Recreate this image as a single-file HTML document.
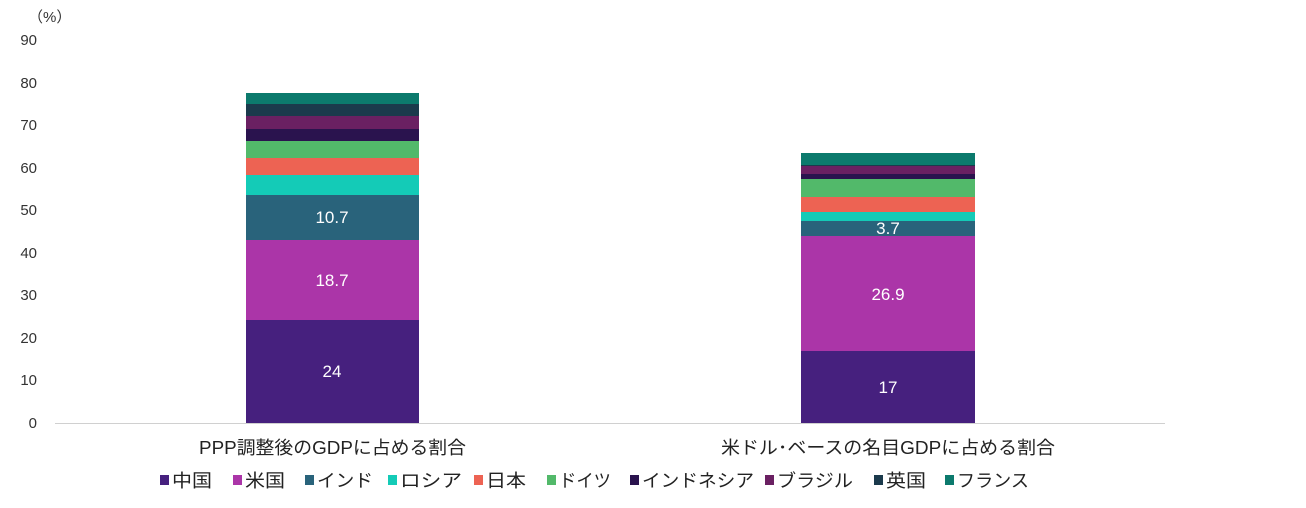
<!DOCTYPE html>
<html><head><meta charset="utf-8"><style>
body{margin:0;background:#fff;}
svg text{font-family:"Liberation Sans","Noto Sans CJK JP",sans-serif;}
</style></head><body>
<svg width="1306" height="503" xmlns="http://www.w3.org/2000/svg">
<g font-size="15" fill="#333" text-anchor="end">
<text x="37" y="45">90</text><text x="37" y="88">80</text><text x="37" y="130">70</text>
<text x="37" y="173">60</text><text x="37" y="215">50</text><text x="37" y="258">40</text>
<text x="37" y="300">30</text><text x="37" y="343">20</text><text x="37" y="385">10</text>
<text x="37" y="428">0</text></g>
<text x="28" y="22" font-size="15" fill="#333">（%）</text>
<line x1="55" y1="423.5" x2="1165" y2="423.5" stroke="#d0d0d0"/>
<g>
<rect x="246" y="320" width="173" height="103" fill="#46207e"/>
<rect x="246" y="240" width="173" height="80" fill="#ab35a8"/>
<rect x="246" y="195" width="173" height="45" fill="#29637b"/>
<rect x="246" y="175" width="173" height="20" fill="#14cbb7"/>
<rect x="246" y="158" width="173" height="17" fill="#ed6353"/>
<rect x="246" y="141" width="173" height="17" fill="#52b96a"/>
<rect x="246" y="129" width="173" height="12" fill="#2a134e"/>
<rect x="246" y="116" width="173" height="13" fill="#6a2062"/>
<rect x="246" y="104" width="173" height="12" fill="#1b3a4c"/>
<rect x="246" y="93" width="173" height="11" fill="#0c7a6d"/>
</g>
<g>
<rect x="801" y="351" width="174" height="72" fill="#46207e"/>
<rect x="801" y="236" width="174" height="115" fill="#ab35a8"/>
<rect x="801" y="221" width="174" height="15" fill="#29637b"/>
<rect x="801" y="212" width="174" height="9" fill="#14cbb7"/>
<rect x="801" y="197" width="174" height="15" fill="#ed6353"/>
<rect x="801" y="179" width="174" height="18" fill="#52b96a"/>
<rect x="801" y="174" width="174" height="5" fill="#2a134e"/>
<rect x="801" y="166" width="174" height="8" fill="#6a2062"/>
<rect x="801" y="165" width="174" height="1" fill="#1b3a4c"/>
<rect x="801" y="153" width="174" height="12" fill="#0c7a6d"/>
</g>
<g font-size="17" fill="#fff" text-anchor="middle">
<text x="332" y="377">24</text><text x="332" y="286">18.7</text><text x="332" y="223">10.7</text>
<text x="888" y="393">17</text><text x="888" y="300">26.9</text><text x="888" y="234">3.7</text>
</g>
<g font-size="18" fill="#222">
<text x="199" y="454" textLength="267" lengthAdjust="spacingAndGlyphs">PPP調整後のGDPに占める割合</text>
<text x="721" y="454" textLength="334" lengthAdjust="spacingAndGlyphs">米ドル･ベースの名目GDPに占める割合</text>
</g>
<g font-size="18" fill="#222">
<rect x="160" y="475" width="9" height="10" fill="#46207e"/><text x="172" y="487" textLength="40" lengthAdjust="spacingAndGlyphs">中国</text>
<rect x="233" y="475" width="9" height="10" fill="#ab35a8"/><text x="245" y="487" textLength="40" lengthAdjust="spacingAndGlyphs">米国</text>
<rect x="305" y="475" width="9" height="10" fill="#29637b"/><text x="317" y="487" textLength="56" lengthAdjust="spacingAndGlyphs">インド</text>
<rect x="388" y="475" width="9" height="10" fill="#14cbb7"/><text x="400" y="487" textLength="62" lengthAdjust="spacingAndGlyphs">ロシア</text>
<rect x="474" y="475" width="9" height="10" fill="#ed6353"/><text x="486" y="487" textLength="40" lengthAdjust="spacingAndGlyphs">日本</text>
<rect x="547" y="475" width="9" height="10" fill="#52b96a"/><text x="559" y="487" textLength="52" lengthAdjust="spacingAndGlyphs">ドイツ</text>
<rect x="630" y="475" width="9" height="10" fill="#2a134e"/><text x="642" y="487" textLength="112" lengthAdjust="spacingAndGlyphs">インドネシア</text>
<rect x="765" y="475" width="9" height="10" fill="#6a2062"/><text x="777" y="487" textLength="76" lengthAdjust="spacingAndGlyphs">ブラジル</text>
<rect x="874" y="475" width="9" height="10" fill="#1b3a4c"/><text x="886" y="487" textLength="40" lengthAdjust="spacingAndGlyphs">英国</text>
<rect x="945" y="475" width="9" height="10" fill="#0c7a6d"/><text x="957" y="487" textLength="72" lengthAdjust="spacingAndGlyphs">フランス</text>
</g>
</svg>
</body></html>
